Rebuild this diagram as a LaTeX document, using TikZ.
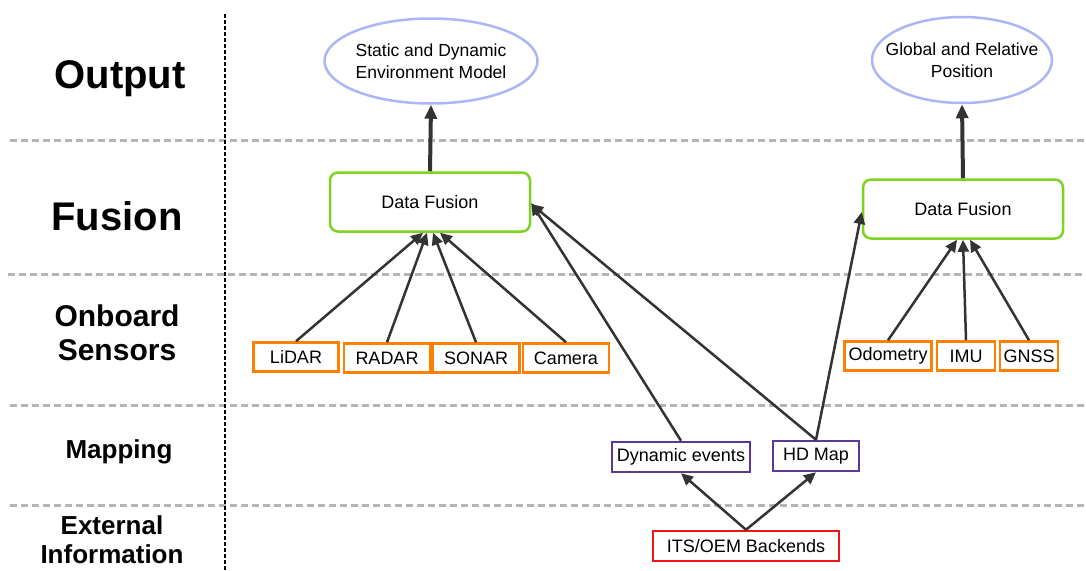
\documentclass[tikz,border=0pt]{standalone}
\usepackage{fontspec}
\setmainfont{Liberation Sans}
\definecolor{envblue}{RGB}{170,182,245}
\definecolor{fusegreen}{RGB}{126,211,33}
\definecolor{sensorange}{RGB}{255,128,0}
\definecolor{mappurple}{RGB}{92,56,146}
\definecolor{extred}{RGB}{240,20,20}
\definecolor{arrowgray}{RGB}{51,51,51}
\definecolor{sepgray}{RGB}{180,180,180}
\usetikzlibrary{arrows.meta,shapes.geometric}

\begin{document}
\begin{tikzpicture}[x=1pt,y=-1pt,
	rowlabel/.style={font=\bfseries, align=center},
	outnode/.style={draw=envblue, line width=2.5pt, ellipse, inner xsep=-20pt, inner ysep=0pt, align=center, font=\fontsize{17.5}{22}\selectfont},
	fusenode/.style={draw=fusegreen, line width=2.5pt, rounded corners=8pt, minimum width=200pt, minimum height=59pt, font=\fontsize{18}{22}\selectfont},
	sensnode/.style={draw=sensorange, line width=2.5pt, minimum height=29pt, inner sep=0pt, font=\fontsize{18}{22}\selectfont},
	mapnode/.style={draw=mappurple, line width=2.5pt, minimum height=30pt, inner sep=0pt, font=\fontsize{18}{22}\selectfont},
	extnode/.style={draw=extred, line width=2.5pt, minimum height=30pt, inner sep=0pt, font=\fontsize{18}{22}\selectfont},
	flow/.style={draw=arrowgray, line width=2.5pt, -{Triangle[length=12pt,width=11pt]}},
	bigflow/.style={draw=arrowgray, line width=4pt, -{Triangle[length=14pt,width=12pt]}},
	sepline/.style={draw=sepgray, line width=3pt, dash pattern={on 7pt off 4pt}}]
	\path[use as bounding box] (0,0) rectangle (1086,570);
	
	%Separators
	\draw [sepline] (10,140) -- (1086,140);
	\draw [sepline] (8,274) -- (1086,274);
	\draw [sepline] (10,405) -- (1086,405);
	\draw [sepline] (10,505) -- (1086,505);
	\draw [black, line width=2.5pt, dash pattern={on 3.5pt off 2.5pt}] (225,14) -- (225,570);
	
	% Text Node
	\node [rowlabel, font=\fontsize{40}{44}\selectfont\bfseries] (outlbl) at (120,79) {Output};
	% Text Node
	\node [rowlabel, font=\fontsize{40}{44}\selectfont\bfseries] (fuselbl) at (117,216) {Fusion};
	% Text Node
	\node [rowlabel, font=\fontsize{30}{34}\selectfont\bfseries] (senslbl) at (117,333) {Onboard\\Sensors};
	% Text Node
	\node [rowlabel, font=\fontsize{26}{30}\selectfont\bfseries] (maplbl) at (119,452) {Mapping};
	% Text Node
	\node [rowlabel, inner sep=0pt, font=\fontsize{26}{29}\selectfont\bfseries] (extlbl) at (112,540) {External\\Information};
	
	%Output
	\node [outnode, minimum width=213pt, minimum height=85pt] (envmodel) at (431,61) {Static and Dynamic\\Environment Model};
	\node [outnode, minimum width=180pt, minimum height=86pt] (position) at (962,60) {Global and Relative\\Position};
	
	%Fusion
	\node [fusenode] (fuseleft) at (430,202) {Data Fusion};
	\node [fusenode] (fuseright) at (963,209) {Data Fusion};
	
	%Onboard sensors
	\node [sensnode, minimum width=85pt] (lidar) at (296,357) {LiDAR};
	\node [sensnode, minimum width=86pt] (radar) at (387,358) {RADAR};
	\node [sensnode, minimum width=87pt] (sonar) at (476,358) {SONAR};
	\node [sensnode, minimum width=86pt] (camera) at (566,358) {Camera};
	\node [sensnode, minimum width=87pt] (odometry) at (888,356) {Odometry};
	\node [sensnode, minimum width=58pt] (imu) at (966,356) {IMU};
	\node [sensnode, minimum width=58pt] (gnss) at (1029,356) {GNSS};
	
	%Mapping
	\node [mapnode, minimum width=138pt] (dynevents) at (681,457) {Dynamic events};
	\node [mapnode, minimum width=86pt] (hdmap) at (816,456) {HD Map};
	
	%External information
	\node [extnode, minimum width=186pt] (backends) at (746,546) {ITS/OEM Backends};
	
	%Arrows
	\draw [bigflow] (fuseleft.north) -- (envmodel.south);
	\draw [bigflow] (fuseright.north) -- (position.south);
	\draw [flow] (lidar.north) -- ([xshift=-7pt]fuseleft.south);
	\draw [flow] (radar.north) -- ([xshift=-3pt]fuseleft.south);
	\draw [flow] (sonar.north) -- ([xshift=3pt]fuseleft.south);
	\draw [flow] (camera.north) -- ([xshift=10pt]fuseleft.south);
	\draw [flow] (dynevents.north) -- ([yshift=-1pt]fuseleft.east);
	\draw [flow] (hdmap.north) -- ([yshift=-2pt]fuseleft.east);
	\draw [flow] (hdmap.north) -- ([yshift=-3pt]fuseright.west);
	\draw [flow] (odometry.north) -- ([xshift=-6pt]fuseright.south);
	\draw [flow] (imu.north) -- (fuseright.south);
	\draw [flow] (gnss.north) -- ([xshift=7pt]fuseright.south);
	\draw [flow] (backends.north) -- (dynevents.south);
	\draw [flow] (backends.north) -- (hdmap.south);
	
\end{tikzpicture}
\end{document}
